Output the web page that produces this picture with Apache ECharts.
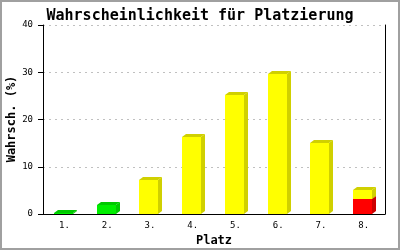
<!DOCTYPE html>
<html>
<head>
<meta charset="utf-8">
<script src="https://cdn.jsdelivr.net/npm/echarts@6/dist/echarts.min.js"></script>
<style>html,body{margin:0;padding:0;background:#fff}#c{width:400px;height:250px}</style>
</head>
<body>
<div id="c"></div>
<script>
const categories = ['1.', '2.', '3.', '4.', '5.', '6.', '7.', '8.'];
const redValues    = [0, 0, 0, 0, 0, 0, 0, 3.1];
const greenValues  = [0.2, 1.9, 0, 0, 0, 0, 0, 0];
const yellowValues = [0, 0, 7.3, 16.2, 25.2, 29.6, 15.0, 1.9];
const yTicks = [0, 10, 20, 30, 40];
const yAxisName = 'Wahrsch. (%)';

const FONT = '"DejaVu Sans Mono", monospace';

function stackData(lowerArrays, values) {
  return values.map((v, i) => {
    let base = 0;
    lowerArrays.forEach(a => { base += a[i]; });
    return [i, base, base + v];
  });
}
const redData = stackData([], redValues);
const greenData = stackData([redValues], greenValues);
const yellowData = stackData([redValues, greenValues], yellowValues);

function make3d(front, dark) {
  return function (params, api) {
    const x = api.value(0), y0 = api.value(1), y1 = api.value(2);
    if (!(y1 > y0)) return null;
    const p0 = api.coord([x, y0]);
    const p1 = api.coord([x, y1]);
    const bw = api.size([1, 0])[0] * 0.44;
    const left = Math.round(p0[0] - bw / 2 - 1);
    const right = Math.round(left + bw);
    const top = Math.round(p1[1]);
    const bot = Math.round(p0[1]);
    const dx = 4, dy = 3;
    return {
      type: 'group',
      children: [
        { type: 'polygon', shape: { points: [[right, top], [right + dx, top - dy], [right + dx, bot - dy], [right, bot]] }, style: { fill: dark } },
        { type: 'polygon', shape: { points: [[left, top], [left + dx, top - dy], [right + dx, top - dy], [right, top]] }, style: { fill: dark } },
        { type: 'rect', shape: { x: left, y: top, width: right - left, height: Math.max(bot - top, 1) }, style: { fill: front } }
      ]
    };
  };
}

const chart = echarts.init(document.getElementById('c'), null, { renderer: 'canvas' });
chart.setOption({
  animation: false,
  backgroundColor: '#fff',
  title: {
    text: 'Wahrscheinlichkeit für Platzierung',
    left: 'center', top: 4,
    textStyle: { fontFamily: FONT, fontSize: 15, fontWeight: 'bold', color: '#000' }
  },
  grid: { left: 43, right: 15, top: 25, bottom: 36, containLabel: false, outerBoundsMode: 'none' },
  xAxis: {
    type: 'category',
    data: categories,
    boundaryGap: true,
    name: 'Platz',
    nameLocation: 'middle',
    nameGap: 21,
    nameTextStyle: { fontFamily: FONT, fontSize: 12, fontWeight: 'bold', color: '#000' },
    axisLine: { lineStyle: { color: '#000', width: 1 } },
    axisTick: { show: false },
    axisLabel: { fontFamily: FONT, fontSize: 9, color: '#000', margin: 7 },
    splitLine: { show: false }
  },
  yAxis: [{
    type: 'value',
    min: 0, max: 40, interval: 10,
    axisLine: { show: true, lineStyle: { color: '#000', width: 1 } },
    axisTick: { show: true, length: 5, inside: false, lineStyle: { color: '#000', width: 1 } },
    axisLabel: { fontFamily: FONT, fontSize: 9, color: '#000', margin: 10,
      formatter: v => (yTicks.indexOf(v) >= 0 ? String(v) : '') },
    splitLine: { show: true, lineStyle: { color: '#c0c0c0', type: [2, 4], width: 1 } }
  }, {
    type: 'value',
    min: 0, max: 40, interval: 10,
    position: 'right',
    axisLine: { show: true, lineStyle: { color: '#000', width: 1 } },
    axisTick: { show: false },
    axisLabel: { show: false },
    splitLine: { show: false }
  }],
  graphic: [{
    type: 'text',
    x: 12, y: 119,
    rotation: Math.PI / 2,
    style: { text: yAxisName, font: 'bold 12px ' + FONT, fill: '#000', align: 'center', verticalAlign: 'middle' }
  }, {
    type: 'rect',
    shape: { x: 1, y: 1, width: 398, height: 248 },
    style: { fill: 'none', stroke: '#a0a0a0', lineWidth: 2 },
    z: 100
  }],
  series: [
    { type: 'custom', name: 'rot', data: redData, renderItem: make3d('#ff0000', '#cc0000'), encode: { x: 0, y: [1, 2] }, z: 2 },
    { type: 'custom', name: 'grün', data: greenData, renderItem: make3d('#00ee00', '#00c800'), encode: { x: 0, y: [1, 2] }, z: 3 },
    { type: 'custom', name: 'gelb', data: yellowData, renderItem: make3d('#ffff00', '#d0d000'), encode: { x: 0, y: [1, 2] }, z: 4 }
  ]
});
</script>
</body>
</html>
